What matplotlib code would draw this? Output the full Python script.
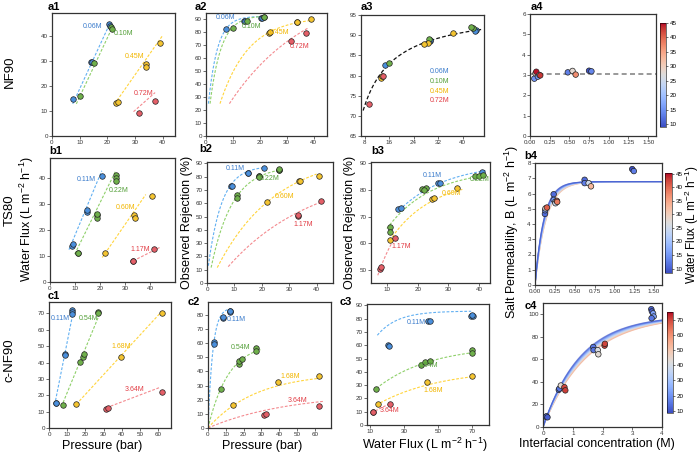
import numpy as np
import matplotlib
matplotlib.use("Agg")
import matplotlib.pyplot as plt
from matplotlib import cm, colors as mcolors
from matplotlib.ticker import FormatStrFormatter

plt.rcParams['font.family'] = ['Liberation Sans', 'DejaVu Sans']
plt.rcParams['mathtext.fontset'] = 'custom'
plt.rcParams['mathtext.rm'] = 'Liberation Sans'
plt.rcParams['mathtext.it'] = 'Liberation Sans:italic'

# ---------------- DATA ----------------
# NF90
nf90_labels = ['0.06M', '0.10M', '0.45M', '0.72M']
nf90_pressure = [[7.6, 14.0, 14.5, 20.5, 20.9], [10.0, 15.3, 21.4, 21.7],
                 [23.3, 23.7, 34.0, 33.9, 39.1], [31.6, 37.1]]
nf90_flux = [[14.8, 29.5, 29.3, 44.5, 43.9], [16.1, 29.1, 43.4, 42.8],
             [13.3, 13.6, 28.8, 27.4, 37.0], [9.3, 14.0]]
nf90_rejection = [[82.5, 88.6, 88.9, 91.2, 91.0], [83.2, 89.0, 91.7, 92.0],
                  [79.5, 80.0, 88.0, 87.7, 90.5], [73.0, 79.8]]
nf90_fit_p = [[7.5, 21.0], [8.8, 22.0], [22.6, 40.0], [29.5, 37.3]]
nf90_fit_j = [[12.8, 45.0], [12.8, 43.7], [12.7, 40.0], [9.7, 17.3]]
# rejection fits vs pressure: start x, start y, plateau, scale, end x
nf90_rej_fit = [[0.9, 25, 92.5, 3.4, 21.0], [1.5, 25, 93.0, 4.17, 22.0],
                [5.2, 25, 92.0, 10.6, 40.0], [8.7, 25, 118.0, 29.6, 38.0]]
# global rejection-flux fit: Rmax, B, flux range
nf90_global_fit = [96.7, 2.67, 7.5, 46.3]
# a4: interfacial concentration, salt permeability, water flux
nf90_ci = [0.055, 0.07, 0.08, 0.10, 0.12, 0.13, 0.48, 0.54, 0.58, 0.75, 0.78]
nf90_B = [2.82, 3.08, 3.16, 2.92, 3.0, 2.98, 3.13, 3.20, 3.02, 3.21, 3.18]
nf90_Jc = [15.0, 29.5, 44.5, 16.0, 29.0, 43.0, 13.3, 28.0, 37.0, 9.3, 14.0]
nf90_B_mean = 3.07

# TS80
ts80_labels = ['0.11M', '0.22M', '0.60M', '1.17M']
ts80_pressure = [[8.7, 9.0, 14.8, 14.9, 20.7],
                 [11.1, 11.1, 18.9, 18.9, 18.9, 26.4, 26.4, 26.4],
                 [21.9, 33.7, 34.1, 40.8], [33.3, 33.3, 41.6]]
ts80_flux = [[13.7, 14.6, 26.8, 27.5, 40.6],
             [11.1, 11.1, 25.5, 24.6, 26.2, 41.0, 39.7, 38.7],
             [11.1, 25.5, 24.6, 32.9], [8.0, 8.2, 12.6]]
ts80_flux_b3 = [[13.6, 14.4, 26.7, 27.2, 40.8],
                [11.1, 11.1, 21.5, 22.7, 22.0, 38.5, 40.0, 41.3],
                [10.9, 24.8, 25.4, 32.9], [7.8, 8.1, 12.5]]
ts80_rejection = [[72.8, 73.1, 82.5, 82.7, 86.6],
                  [66.0, 64.3, 80.2, 80.6, 80.0, 85.3, 85.2, 85.6],
                  [61.0, 76.6, 76.9, 80.8], [50.4, 51.2, 61.8]]
ts80_fit_p = [[7.6, 20.7], [9.9, 26.3], [20.9, 38.3], [33.3, 44.0]]
ts80_fit_j = [[12.4, 42.6], [10.7, 42.6], [9.4, 33.5], [8.1, 13.3]]
ts80_rej_fit_p = [[0.5, 13.0, 88.0, 4.93, 21.5], [1.5, 11.6, 88.0, 7.79, 26.5],
                  [3.75, 11.6, 97.9, 21.5, 40.0], [7.75, 12.3, 86.0, 31.5, 42.75]]
ts80_rej_fit_j = [[14.1, 72.5, 90.2, 15.6, 42.4], [10.0, 65.5, 87.8, 14.3, 42.4],
                  [10.9, 61.0, 84.3, 13.6, 34.5], [7.0, 47.9, 81.0, 10.0, 12.7]]
ts80_ci = [0.125, 0.128, 0.132, 0.150, 0.235, 0.235, 0.255, 0.258, 0.275, 0.280,
           0.625, 0.625, 0.675, 0.705, 1.225, 1.245]
ts80_B = [4.66, 4.90, 5.02, 5.08, 5.95, 5.58, 5.45, 5.36, 5.52, 5.45,
          6.90, 6.68, 6.68, 6.47, 7.60, 7.47]
ts80_Jc = [11.1, 13.7, 27.0, 40.6, 11.1, 14.6, 25.5, 24.6, 40.0, 38.7,
           11.1, 13.0, 25.0, 33.0, 8.0, 12.6]
# band model: plateau, scale at low flux, scale at high flux, flux range
ts80_band = [6.78, 0.11, 0.14, 9.0, 34.0]

# c-NF90
cnf_labels = ['0.11M', '0.54M', '1.68M', '3.64M']
cnf_pressure = [[3.7, 3.6, 9.0, 9.0, 12.7, 12.7, 12.7],
                [7.7, 17.2, 18.7, 19.3, 27.0, 27.0],
                [15.0, 39.8, 62.2], [31.2, 32.6, 62.2]]
cnf_flux = [[15.1, 15.1, 45.5, 44.5, 72.4, 71.0, 69.6],
            [14.1, 40.6, 43.5, 45.5, 70.6, 70.3],
            [14.9, 43.3, 70.0], [11.6, 12.0, 22.3]]
cnf_flux_c3 = [[20.5, 20.8, 43.9, 45.0, 69.4, 70.4, 70.0],
               [13.5, 40.0, 42.5, 44.9, 70.0, 70.0],
               [14.5, 43.3, 69.8], [11.6, 11.8, 21.8]]
cnf_pressure_c2 = [[3.2, 3.2, 8.4, 8.6, 12.2, 12.2, 12.2],
                   [7.1, 17.2, 17.6, 18.9, 27.1, 27.1],
                   [14.3, 39.1, 62.0], [31.5, 32.4, 62.0]]
cnf_rejection = [[60.5, 59.3, 78.0, 78.2, 82.3, 82.0, 82.5],
                 [27.2, 45.2, 47.5, 48.5, 56.6, 54.3],
                 [16.0, 32.2, 36.7], [9.5, 9.6, 15.5]]
cnf_fit_p = [[3.1, 13.6], [6.8, 27.9], [15.0, 60.9], [31.6, 60.9]]
cnf_fit_j = [[14.1, 72.7], [13.0, 70.0], [14.5, 70.0], [12.4, 24.8]]
cnf_rej_fit_p = [[0.0, 0.0, 85.0, 2.66, 12.5], [0.0, 0.0, 60.0, 11.5, 29.4],
                 [0.0, 0.0, 39.0, 27.1, 61.5], [0.0, 0.0, 24.8, 45.5, 65.3]]
cnf_rej_fit_j = [[14.1, 67.5, 85.7, 11.9, 69.5], [13.5, 27.5, 59.8, 31.7, 70.4],
                 [13.5, 15.0, 42.3, 37.3, 70.0], [10.6, 8.75, 25.5, 20.0, 22.4]]
cnf_ci = [0.10, 0.12, 0.15, 0.53, 0.55, 0.60, 0.72, 0.75, 1.69, 1.70, 1.84, 1.86,
          2.07, 2.08, 3.64, 3.66, 3.70, 3.72, 3.65]
cnf_B = [9.0, 9.5, 8.6, 33.0, 34.0, 36.8, 35.3, 32.5, 71.0, 68.2, 68.2, 64.5,
         72.2, 73.8, 104.5, 102.5, 100.8, 98.0, 96.5]
cnf_Jc = [15.0, 14.0, 11.6, 14.1, 14.9, 43.5, 70.0, 70.6, 15.0, 14.9, 40.6, 43.3,
          70.0, 70.0, 12.0, 11.6, 22.3, 22.3, 15.0]
cnf_band = [99.0, 1.25, 1.5, 10.0, 58.0]

# ---------------- STYLE ----------------
fill_c = ['#4a8fdc', '#6fb04b', '#f4c430', '#e45f68']
line_c = ['#62b0f2', '#8fd06a', '#ffd43b', '#f48a8f']
text_c = ['#3b7ccc', '#55a03a', '#f2b600', '#e23d45']

W, H = 700, 454
fig = plt.figure(figsize=(7, 4.54), dpi=100)


def ax_at(l, t, r, b):
    return fig.add_axes([l / W, 1 - b / H, (r - l) / W, (b - t) / H])


def style(ax, xlim, ylim, xt, yt):
    ax.set_xlim(*xlim)
    ax.set_ylim(*ylim)
    ax.set_xticks(xt)
    ax.set_yticks(yt)
    ax.tick_params(labelsize=4.5, length=2, width=0.5, pad=1, colors='#333')
    for sp in ax.spines.values():
        sp.set_linewidth(0.9)
        sp.set_color('#333')


def pts(ax, xs, ys, k):
    ax.scatter(xs, ys, s=16, c=fill_c[k], edgecolors='#222', linewidths=0.5, zorder=3)


def fitline(ax, xs, ys, k):
    ax.plot(xs, ys, ls=(0, (2.5, 1.5)), color=line_c[k], lw=0.8, zorder=2)


def satcurve(ax, p, k):
    xs, y0, ym, s, xe = p
    x = np.linspace(xs, xe, 150)
    y = y0 + (ym - y0) * (1 - np.exp(-(x - xs) / s))
    fitline(ax, x, y, k)


def lab(ax, pos, labels):
    for k, (x, y) in enumerate(pos):
        ax.text(x, y, labels[k], color=text_c[k], fontsize=5, ha='center', va='center', zorder=4)


def plabel(x, y, s):
    fig.text(x / W, 1 - y / H, s, fontsize=8, fontweight='bold', ha='left', va='baseline')


def ftext(x, y, s, rot=0, size=9, **kw):
    fig.text(x / W, 1 - y / H, s, fontsize=size, rotation=rot, ha='center', va='center', **kw)


cmap = plt.get_cmap('coolwarm')


def cbar(l, t, r, b, vmin, vmax, ticks):
    cax = ax_at(l, t, r, b)
    sm = cm.ScalarMappable(norm=mcolors.Normalize(vmin, vmax), cmap=cmap)
    cb = fig.colorbar(sm, cax=cax)
    cb.set_ticks(ticks)
    cax.tick_params(labelsize=4.5, length=1.5, width=0.4, pad=1)
    cb.outline.set_linewidth(0.4)
    return cb


def band(ax, prm, xmax, norm):
    M, s_lo, s_hi, f_lo, f_hi = prm
    x = np.linspace(0.0, xmax, 300)
    for f in np.linspace(f_hi, f_lo, 30):
        s = s_lo + (s_hi - s_lo) * (f - f_lo) / (f_hi - f_lo)
        ax.plot(x, M * (1 - np.exp(-x / s)), color=cmap(norm(f)), lw=0.8, alpha=0.35, zorder=1)


# ---------------- ROW a: NF90 ----------------
a1 = ax_at(52, 13, 175, 136)
style(a1, (0, 44.5), (0, 49), [0, 10, 20, 30, 40], [0, 10, 20, 30, 40])
for k in range(4):
    fitline(a1, nf90_fit_p[k], nf90_fit_j[k], k)
    pts(a1, nf90_pressure[k], nf90_flux[k], k)
lab(a1, [(14.5, 43.5), (26.0, 41.0), (30.0, 31.5), (33.0, 17.0)], nf90_labels)

a2 = ax_at(206, 13, 327, 136)
style(a2, (0, 45), (0, 95), [0, 10, 20, 30, 40], list(range(0, 91, 10)))
for k in range(4):
    satcurve(a2, nf90_rej_fit[k], k)
    pts(a2, nf90_pressure[k], nf90_rejection[k], k)
lab(a2, [(7.3, 91.5), (17.0, 84.3), (27.5, 80.0), (34.9, 68.9)], nf90_labels)

a3 = ax_at(361, 15, 484, 136)
style(a3, (6.8, 47), (65, 95), [8, 16, 24, 32, 40], [65, 70, 75, 80, 85, 90, 95])
Rm, Bg, j0, j1 = nf90_global_fit
jj = np.linspace(j0, j1, 150)
a3.plot(jj, Rm * jj / (jj + Bg), ls=(0, (3, 1.8)), color='#111', lw=0.9, zorder=2)
for k in range(4):
    pts(a3, nf90_flux[k], nf90_rejection[k], k)
for k in range(4):
    a3.text(29.2, 80.9 - 2.4 * k, nf90_labels[k], color=text_c[k], fontsize=5, ha='left', va='center')

a4 = ax_at(530, 14, 656, 136)
style(a4, (0, 1.6), (0, 6), [0, 0.25, 0.5, 0.75, 1.0, 1.25, 1.5], [0, 1, 2, 3, 4, 5, 6])
a4.xaxis.set_major_formatter(FormatStrFormatter('%.2f'))
norm_a = mcolors.Normalize(9, 45)
a4.axhline(nf90_B_mean, ls=(0, (3, 2)), color='#888', lw=1.2, zorder=1)
a4.scatter(nf90_ci, nf90_B, s=16, c=nf90_Jc, cmap=cmap, norm=norm_a, edgecolors='#222',
           linewidths=0.5, zorder=3)
cbar(660, 23, 666, 127, 9, 45, [10, 15, 20, 25, 30, 35, 40, 45])

# ---------------- ROW b: TS80 ----------------
b1 = ax_at(50, 158, 175, 282)
style(b1, (0, 50), (0, 47.5), [0, 10, 20, 30, 40], [0, 10, 20, 30, 40])
for k in range(4):
    fitline(b1, ts80_fit_p[k], ts80_fit_j[k], k)
    pts(b1, ts80_pressure[k], ts80_flux[k], k)
lab(b1, [(14.7, 39.2), (27.5, 35.0), (30.3, 28.4), (36.3, 12.3)], ts80_labels)

b2 = ax_at(207, 162, 333, 283)
style(b2, (0, 46), (0, 91), [0, 10, 20, 30, 40], list(range(0, 91, 10)))
for k in range(4):
    satcurve(b2, ts80_rej_fit_p[k], k)
    pts(b2, ts80_pressure[k], ts80_rejection[k], k)
lab(b2, [(10.25, 86.0), (22.75, 78.4), (28.4, 65.0), (35.25, 43.7)], ts80_labels)

b3 = ax_at(371, 162, 490, 283)
style(b3, (4.8, 43.5), (45, 90.5), [10, 20, 30, 40], [50, 60, 70, 80, 90])
for k in range(4):
    satcurve(b3, ts80_rej_fit_j[k], k)
    pts(b3, ts80_flux_b3[k], ts80_rejection[k], k)
lab(b3, [(24.9, 85.5), (40.0, 83.9), (31.0, 78.6), (14.5, 58.9)], ts80_labels)

b4 = ax_at(535, 163, 662, 285)
style(b4, (0, 1.6), (0, 8), [0, 0.25, 0.5, 0.75, 1.0, 1.25, 1.5], list(range(0, 9)))
b4.xaxis.set_major_formatter(FormatStrFormatter('%.2f'))
norm_b = mcolors.Normalize(8.4, 45.2)
band(b4, ts80_band, 1.6, norm_b)
b4.scatter(ts80_ci, ts80_B, s=16, c=ts80_Jc, cmap=cmap, norm=norm_b, edgecolors='#222',
           linewidths=0.5, zorder=3)
cbar(665, 173, 672, 273, 8.4, 45.2, [10, 15, 20, 25, 30, 35, 40, 45])

# ---------------- ROW c: c-NF90 ----------------
c1 = ax_at(49, 302, 171, 428)
style(c1, (0, 67), (0, 77), list(range(0, 61, 10)), list(range(0, 71, 10)))
for k in range(4):
    fitline(c1, cnf_fit_p[k], cnf_fit_j[k], k)
    pts(c1, cnf_pressure[k], cnf_flux[k], k)
lab(c1, [(6.4, 66.9), (21.5, 66.9), (39.8, 49.7), (47.2, 23.4)], cnf_labels)

c2 = ax_at(208, 302, 331, 428)
style(c2, (0, 69), (0, 89), list(range(0, 61, 10)), list(range(0, 81, 10)))
for k in range(4):
    satcurve(c2, cnf_rej_fit_p[k], k)
    pts(c2, cnf_pressure_c2[k], cnf_rejection[k], k)
lab(c2, [(15.8, 76.4), (18.5, 56.6), (46.2, 36.3), (50.0, 19.6)], cnf_labels)

c3 = ax_at(367, 304, 489, 425)
style(c3, (8, 80), (0, 91), [10, 30, 50, 70], list(range(0, 91, 10)))
for k in range(4):
    satcurve(c3, cnf_rej_fit_j[k], k)
    pts(c3, cnf_flux_c3[k], cnf_rejection[k], k)
lab(c3, [(37.0, 77.0), (44.5, 44.5), (46.9, 26.25), (21.4, 10.75)], cnf_labels)

c4 = ax_at(543, 303, 662, 427)
style(c4, (0, 4), (0, 110), [0, 1, 2, 3, 4], [0, 20, 40, 60, 80, 100])
norm_c = mcolors.Normalize(8.5, 75)
band(c4, cnf_band, 4.0, norm_c)
c4.scatter(cnf_ci, cnf_B, s=16, c=cnf_Jc, cmap=cmap, norm=norm_c, edgecolors='#222',
           linewidths=0.5, zorder=3)
cbar(667, 312, 673, 413, 8.5, 75, [10, 20, 30, 40, 50, 60, 70])

# ---------------- TEXT ----------------
for (x, y, s) in [(48, 10, 'a1'), (195, 10, 'a2'), (361, 10, 'a3'), (531, 10, 'a4'),
                  (49, 154, 'b1'), (199, 152, 'b2'), (371, 154, 'b3'), (524, 159, 'b4'),
                  (48, 299, 'c1'), (188, 305, 'c2'), (340, 305, 'c3'), (525, 309, 'c4')]:
    plabel(x, y, s)

ftext(10, 72, 'NF90', rot=90, size=9.5)
ftext(10, 210, 'TS80', rot=90, size=9.5)
ftext(10, 360, 'c-NF90', rot=90, size=9.5)

flux_lbl = r'Water Flux (L m$^{-2}$ h$^{-1}$)'
ftext(27, 219, flux_lbl, rot=90)
ftext(187, 222, 'Observed Rejection (%)', rot=90)
ftext(350, 222, 'Observed Rejection (%)', rot=90)
ftext(512, 232, r'Salt Permeability, B (L m$^{-2}$ h$^{-1}$)', rot=90)
ftext(692, 225, flux_lbl, rot=90, size=8.5)

ftext(102, 446, 'Pressure (bar)')
ftext(262, 446, 'Pressure (bar)')
ftext(425, 445, flux_lbl)
ftext(597, 444, 'Interfacial concentration (M)')

fig.savefig('out.png', dpi=100)
